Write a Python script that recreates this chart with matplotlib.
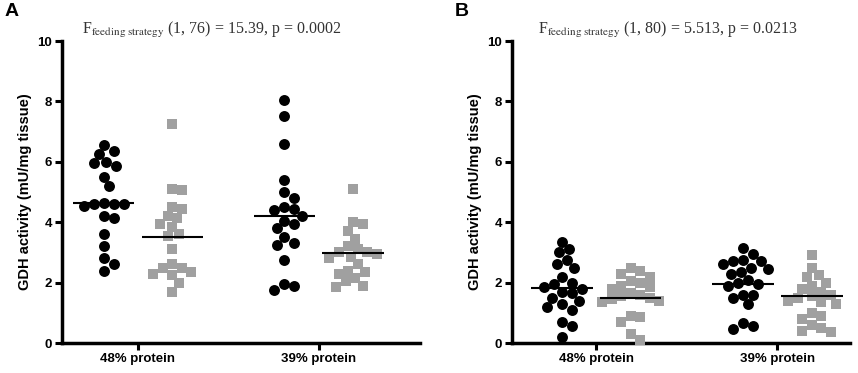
import numpy as np
import matplotlib.pyplot as plt

plt.rcParams['font.family'] = ['Liberation Sans', 'DejaVu Sans']
plt.rcParams['mathtext.fontset'] = 'stix'

groups = ['48% protein', '39% protein']

# panel A values (mU/mg tissue)
a_black_48 = [6.55, 6.35, 6.25, 6.0, 5.95, 5.85, 5.5, 5.2, 4.65, 4.6, 4.6, 4.6,
              4.55, 4.2, 4.15, 3.6, 3.2, 2.8, 2.6, 2.4]
a_grey_48 = [7.25, 5.1, 5.05, 4.5, 4.45, 4.2, 4.15, 3.95, 3.85, 3.6, 3.55, 3.1,
             2.6, 2.5, 2.5, 2.35, 2.3, 2.25, 2.0, 1.7]
a_black_39 = [8.05, 7.5, 6.6, 5.4, 5.0, 4.8, 4.5, 4.45, 4.4, 4.2, 4.05, 3.95,
              3.8, 3.5, 3.3, 3.25, 2.75, 1.95, 1.9, 1.75]
a_grey_39 = [5.1, 4.0, 3.95, 3.7, 3.45, 3.2, 3.1, 3.0, 3.0, 2.95, 2.85, 2.8,
             2.6, 2.4, 2.35, 2.3, 2.15, 2.05, 1.9, 1.85]
a_means = [[4.62, 3.52], [4.2, 2.97]]

# panel B values
b_black_48 = [3.35, 3.1, 3.0, 2.75, 2.6, 2.5, 2.2, 2.0, 1.95, 1.85, 1.8, 1.7,
              1.65, 1.5, 1.4, 1.3, 1.2, 1.1, 0.7, 0.55, 0.2]
b_grey_48 = [2.5, 2.4, 2.3, 2.2, 2.05, 2.0, 1.9, 1.85, 1.8, 1.65, 1.6, 1.55,
             1.5, 1.45, 1.4, 1.35, 0.9, 0.85, 0.7, 0.3, 0.1]
b_black_39 = [3.15, 2.95, 2.75, 2.7, 2.7, 2.6, 2.5, 2.45, 2.35, 2.3, 2.1, 2.0,
              1.95, 1.9, 1.6, 1.6, 1.5, 1.3, 0.65, 0.55, 0.45]
b_grey_39 = [2.9, 2.5, 2.25, 2.2, 2.0, 1.9, 1.8, 1.7, 1.6, 1.55, 1.5, 1.4,
             1.35, 1.3, 1.0, 0.9, 0.8, 0.6, 0.5, 0.4, 0.35]
b_means = [[1.83, 1.48], [1.97, 1.55]]

titles = [r'F$_{\mathrm{feeding\ strategy}}$ (1, 76) = 15.39, p = 0.0002',
          r'F$_{\mathrm{feeding\ strategy}}$ (1, 80) = 5.513, p = 0.0213']

GREY = '#a0a0a0'


def swarm(ax, vals, center, d):
    # simple beeswarm in pixel space
    t = ax.transData
    sx = t.transform((1, 0))[0] - t.transform((0, 0))[0]
    sy = t.transform((0, 1))[1] - t.transform((0, 0))[1]
    placed = []
    xs = []
    for v in vals:
        y = v * sy
        cands = [0.0]
        for k in range(1, 60):
            cands += [k * d * 0.25, -k * d * 0.25]
        for off in cands:
            if all((off - px) ** 2 + (y - py) ** 2 >= d * d for px, py in placed):
                break
        placed.append((off, y))
        xs.append(center + off / sx)
    return xs


fig = plt.figure(figsize=(8.58, 3.73), dpi=100)
ax_a = fig.add_axes([62 / 858, 30 / 373, 358 / 858, 302 / 373])
ax_b = fig.add_axes([512 / 858, 30 / 373, 338 / 858, 302 / 373])

panels = [
    (ax_a, [a_black_48, a_black_39], [a_grey_48, a_grey_39], a_means, (-0.42, 1.56), titles[0], 0.056, 'A', 5),
    (ax_b, [b_black_48, b_black_39], [b_grey_48, b_grey_39], b_means, (-0.464, 1.40), titles[1], 0.077, 'B', 455),
]

for ax, blacks, greys, means, xl, title, tx, letter, lx in panels:
    ax.set_xlim(*xl)
    ax.set_ylim(0, 10)
    for i in range(2):
        cb = i - 0.19
        cg = i + 0.19
        xb = swarm(ax, blacks[i], cb, 10)
        xg = swarm(ax, greys[i], cg, 9.5)
        ax.scatter(xb, blacks[i], s=62, color='black', marker='o', linewidths=0, zorder=3, clip_on=False)
        ax.scatter(xg, greys[i], s=50, color=GREY, marker='s', linewidths=0, zorder=3, clip_on=False)
        ax.hlines(means[i][0], cb - 0.17, cb + 0.17, color='black', lw=1.5, zorder=4)
        ax.hlines(means[i][1], cg - 0.17, cg + 0.17, color='black', lw=1.5, zorder=4)

    ax.set_xticks([0, 1])
    ax.set_xticklabels(groups, fontweight='bold', fontsize=9.5)
    ax.set_yticks(range(0, 11, 2))
    ax.set_yticklabels([str(v) for v in range(0, 11, 2)], fontweight='bold', fontsize=9.5)
    for s in ['top', 'right']:
        ax.spines[s].set_visible(False)
    for s in ['left', 'bottom']:
        ax.spines[s].set_linewidth(2.5)
    ax.tick_params(width=2.2, length=5, pad=2)
    ax.set_ylabel('GDH activity (mU/mg tissue)', fontweight='bold', fontsize=10.5)
    ax.yaxis.set_label_coords(-0.083 if letter == 'A' else -0.088, 0.5)
    ax.text(tx, 1.036, title, transform=ax.transAxes, ha='left', va='center',
            fontsize=11.5, family='Liberation Serif', color='#333333')
    fig.text(lx / 858, 1 - 12 / 373, letter, fontsize=14, fontweight='bold', va='center')

fig.savefig('out.png', dpi=100)
